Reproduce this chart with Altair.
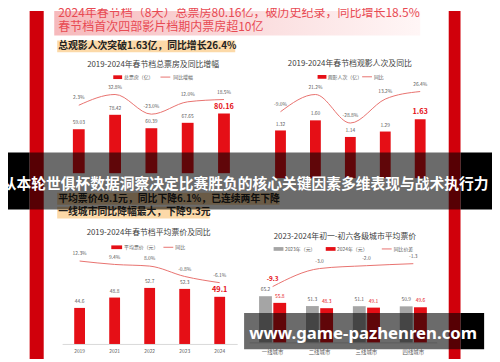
import altair as alt
import pandas as pd

W, H = 492, 354
FONT = "Noto Sans CJK SC"
RED = "#e50f16"
LINE = "#e8706d"
GRAY_TXT = "#595959"
TITLE_C = "#404040"

# ---------------- data ----------------
years = ["2019", "2021", "2022", "2023", "2024"]
box_office = [59.03, 78.42, 60.39, 67.65, 80.16]
box_yoy = [2.3, 32.8, -23.0, 12.0, 18.5]
admissions = [1.32, 1.60, 1.14, 1.29, 1.63]
adm_yoy = [-9.0, 21.2, -28.8, 13.2, 26.4]
avg_price = [44.6, 48.8, 52.7, 52.3, 49.1]
price_yoy = [12.3, 9.4, 8.0, -0.8, -6.1]
cities = ["一线城市", "二线城市", "三线城市", "四线城市"]
tiers_years = ["2023", "2024"]
price_2023 = [65.2, 51.3, 51.1, 50.9]
price_2024 = [55.8, 48.3, 49.1, 49.6]
price_diff = [-9.3, -3.0, -2.0, -1.3]

head1 = "2024年春节档（8天）总票房80.16亿，破历史纪录，同比增长18.5%"
head2 = "春节档首次四部影片档期内票房超10亿"
note1 = "总观影人次突破1.63亿，同比增长26.4%"
note2 = "平均票价49.1元，同比下降6.1%，已连续两年下降"
note3 = "一线城市同比降幅最大，下降9.3元"
title1 = "2019-2024年春节档总票房及同比增幅"
title2 = "2019-2024年春节档观影人次及同比"
title3 = "2019-2024年春节档平均票价及同比"
title4 = "2023-2024年初一-初六各级城市平均票价"
banner = "从本轮世俱杯数据洞察决定比赛胜负的核心关键因素多维表现与战术执行力"
watermark = "www.game-pazhenren.com"

one = pd.DataFrame({"k": [0]})


def rect(x, x2, y, y2, color, opacity=1.0):
    return alt.Chart(one).mark_rect(color=color, opacity=opacity).encode(
        x=alt.value(x), x2=alt.value(x2), y=alt.value(y), y2=alt.value(y2))


def label(s, x, y, size, color, weight="normal", align="left", font=FONT):
    return alt.Chart(one).mark_text(
        text=s, fontSize=size, color=color, fontWeight=weight, align=align,
        baseline="middle", font=font).encode(x=alt.value(x), y=alt.value(y))


def hrule(x, x2, y, color, w=1.0):
    return alt.Chart(one).mark_rule(color=color, strokeWidth=w).encode(
        x=alt.value(x), x2=alt.value(x2), y=alt.value(y))


def bar_line(vals, yoy, vfmt, xrange, bdom, brng, ldom, lrng, bar_w,
             big, base=0, axis=None):
    df = pd.DataFrame({
        "year": years, "val": vals, "yoy": yoy,
        "vlbl": [vfmt.format(v) for v in vals],
        "plbl": [f"{v:.1f}%" for v in yoy],
    })
    sc = alt.Scale(domain=years, range=xrange, paddingInner=0, paddingOuter=0)
    X = alt.X("year:N", scale=sc, axis=None)
    Xa = alt.X("year:N", scale=sc, axis=axis) if axis is not None else X
    Yb = alt.Y("val:Q", scale=alt.Scale(domain=bdom, range=brng, zero=False), axis=None)
    Yl = alt.Y("yoy:Q", scale=alt.Scale(domain=ldom, range=lrng, zero=False), axis=None)
    c = alt.Chart(df)
    bars = c.mark_bar(size=bar_w, color=RED).encode(x=Xa, y=Yb, y2=alt.datum(base))
    vl = c.mark_text(fontSize=5, color=GRAY_TXT, baseline="bottom", dy=-4, font=FONT).encode(
        x=X, y=Yb, text="vlbl:N").transform_filter(alt.datum.year != "2024")
    vh = c.mark_text(fontSize=big, color=RED, fontWeight="bold", baseline="bottom", dy=-3, font=FONT).encode(
        x=X, y=Yb, text="vlbl:N").transform_filter(alt.datum.year == "2024")
    line = c.mark_line(interpolate="monotone", color=LINE, strokeWidth=1).encode(x=X, y=Yl)
    ll = c.mark_text(fontSize=5, color=GRAY_TXT, baseline="bottom", dy=-5, font=FONT).encode(
        x=X, y=Yl, text="plbl:N")
    return [bars, vl, vh, line, ll]


layers = []

# background decorations
layers += [
    rect(22, 36.3, 0, H, "#d0000b"),
    rect(448, 460, 0, H, "#d0000b"),
]
grad = alt.LinearGradient(
    gradient="linear", x1=0, x2=1, y1=0, y2=0,
    stops=[alt.GradientStop(color="#f6b9bc", offset=0),
           alt.GradientStop(color="#fbe0e1", offset=0.6),
           alt.GradientStop(color="#fff6f6", offset=1)])
layers.append(alt.Chart(one).mark_rect(color=grad).encode(
    x=alt.value(47), x2=alt.value(419), y=alt.value(0), y2=alt.value(25)))
layers += [
    label(head1, 51, 2, 12.2, "#e84a53"),
    label(head2, 51, 16.5, 12.2, "#e84a53"),
    rect(50, 231, 30, 42, "#fcd9a8"),
    label(note1, 51, 36, 10, "#222222", "bold"),
    rect(50, 276, 185, 197, "#fcd9a8"),
    label(note2, 51, 191, 10, "#222222", "bold"),
    rect(50, 205, 199, 211, "#fcd9a8"),
    label(note3, 51, 205, 10, "#222222", "bold"),
]

# chart 1
layers += [label(title1, 147.5, 55.3, 8, TITLE_C, align="center"),
           rect(107, 116, 65.5, 69.3, RED), label("总票房（亿）", 118, 67.3, 5, GRAY_TXT),
           hrule(155, 165, 67.3, LINE), label("同比增幅", 168, 67.3, 5, GRAY_TXT)]
layers += bar_line(box_office, box_yoy, "{:.2f}", [53.5, 238], [0, 100], [165, 89.3],
                   [-30, 40], [107.5, 82.4], 12, 7.5)

# chart 2
layers += [label(title2, 347.5, 54.3, 8, TITLE_C, align="center"),
           rect(314.7, 323.7, 65.2, 69, RED), label("观影人次（亿）", 325, 67, 5, GRAY_TXT),
           hrule(360, 370, 67, LINE), label("同比", 372, 67, 5, GRAY_TXT)]
layers += bar_line(admissions, adm_yoy, "{:.2f}", [259.25, 436.75], [0, 2], [170, 96.6],
                   [-30, 30], [114.7, 79.9], 11, 7.5)

# chart 3
axis3 = alt.Axis(orient="bottom", offset=-15.4, title=None, ticks=False, grid=False,
                 domainColor="#d9d9d9", labelColor=GRAY_TXT, labelFontSize=5,
                 labelPadding=4.6, labelAngle=0, labelFont=FONT)
layers += [label(title3, 143, 226, 8, TITLE_C, align="center"),
           rect(105, 116, 238.4, 242.2, RED), label("平均票价（元）", 118, 240.3, 5, GRAY_TXT),
           hrule(158, 168, 240.3, LINE), label("同比", 170, 240.3, 5, GRAY_TXT)]
layers += bar_line(avg_price, price_yoy, "{:.1f}", [55, 233], [30, 60], [338.6, 263.3],
                   [-10, 15], [280.96, 251.06], 11, 7.5, base=30, axis=axis3)

# chart 4
layers += [label(title4, 342.5, 229.7, 8, TITLE_C, align="center"),
           rect(270, 280, 240.1, 243.9, "#a5a5a5"), label("2023年（元）", 281.5, 242, 5, GRAY_TXT),
           rect(323, 333, 240.1, 243.9, RED), label("2024年（元）", 334.5, 242, 5, GRAY_TXT),
           hrule(380, 390, 242, LINE), label("同比价差", 392, 242, 5, GRAY_TXT)]
rows = []
for i, cname in enumerate(cities):
    rows.append({"city": cname, "yr": "2023", "price": price_2023[i], "lbl": f"{price_2023[i]:.1f}"})
    rows.append({"city": cname, "yr": "2024", "price": price_2024[i], "lbl": f"{price_2024[i]:.1f}"})
df4 = pd.DataFrame(rows)
df4l = pd.DataFrame({"city": cities, "diff": price_diff, "dlbl": [f"{v:.1f}" for v in price_diff]})
sc4 = alt.Scale(domain=cities, range=[245.15, 435.85], paddingInner=0, paddingOuter=0)
axis4 = alt.Axis(orient="bottom", offset=-17, title=None, ticks=False, grid=False,
                 domainColor="#d9d9d9", labelColor=GRAY_TXT, labelFontSize=5.5,
                 labelPadding=7, labelAngle=0, labelFont=FONT)
X4 = alt.X("city:N", scale=sc4, axis=None)
X4a = alt.X("city:N", scale=sc4, axis=axis4)
XO = alt.XOffset("yr:N", scale=alt.Scale(domain=tiers_years, paddingInner=0.1, paddingOuter=0.695))
Y4 = alt.Y("price:Q", scale=alt.Scale(domain=[0, 100], range=[337, 265]), axis=None)
Y4l = alt.Y("diff:Q", scale=alt.Scale(domain=[-10, 0], range=[282.3, 253.2], zero=False), axis=None)
c4 = alt.Chart(df4)
layers += [
    c4.mark_bar().encode(x=X4a, xOffset=XO, y=Y4, y2=alt.datum(0),
                         color=alt.Color("yr:N", scale=alt.Scale(domain=tiers_years, range=["#a5a5a5", RED]), legend=None)),
    c4.mark_text(fontSize=5, color=GRAY_TXT, baseline="bottom", dy=-4, font=FONT).encode(
        x=X4, xOffset=XO, y=Y4, text="lbl:N").transform_filter(alt.datum.yr == "2023"),
    c4.mark_text(fontSize=5, color=RED, baseline="bottom", dy=-4, font=FONT).encode(
        x=X4, xOffset=XO, y=Y4, text="lbl:N").transform_filter(alt.datum.yr == "2024"),
]
c4l = alt.Chart(df4l)
layers += [
    c4l.mark_line(interpolate="monotone", color=LINE, strokeWidth=1).encode(x=X4, y=Y4l),
    c4l.mark_text(fontSize=5, color=GRAY_TXT, baseline="bottom", dy=-5, font=FONT).encode(
        x=X4, y=Y4l, text="dlbl:N").transform_filter(alt.datum.city != "一线城市"),
    c4l.mark_text(fontSize=6.5, color=RED, fontWeight="bold", baseline="bottom", dy=-4.5, font=FONT).encode(
        x=X4, y=Y4l, text="dlbl:N").transform_filter(alt.datum.city == "一线城市"),
]

# overlays
layers += [
    rect(22, 460, 144, 202, "#000000", 0.58),
    rect(0, 22, 144, 202, "#000000"),
    rect(460, W, 144, 202, "#000000"),
    label(banner, 241, 176, 15, "#ffffff", "bold", "center"),
    rect(240, 460, 307, 344, "#000000", 0.58),
    rect(460, 484, 307, 344, "#000000"),
    label(watermark, 361, 328.7, 17, "#ffffff", "bold", "center", "Noto Sans"),
]

chart = alt.layer(*layers).resolve_scale(
    x="independent", y="independent", color="independent"
).properties(
    width=W, height=H, autosize=alt.AutoSizeParams(type="none"), padding=0,
    background="#ffffff"
).configure_view(stroke=None)

chart.save("out.html", embed_options={"renderer": "svg", "actions": False})
